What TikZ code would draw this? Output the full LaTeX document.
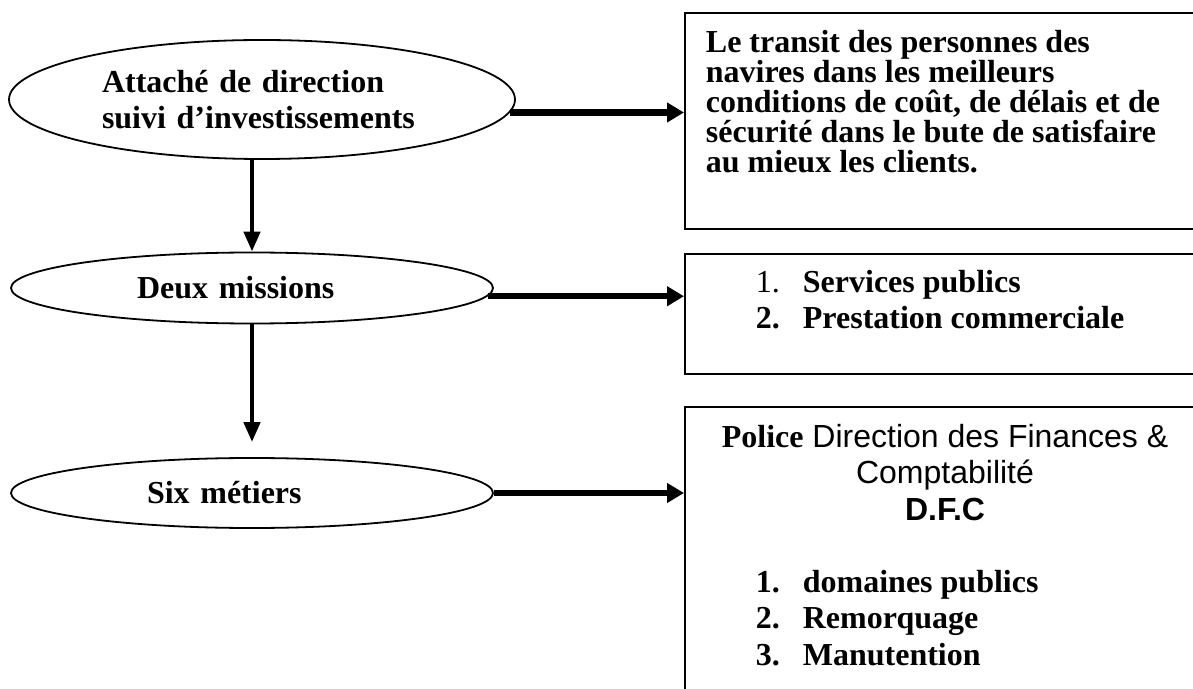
\documentclass[tikz,border=0pt]{standalone}
\usepackage{fontspec}
\setmainfont{Liberation Serif}
\setsansfont{Liberation Sans}
\usetikzlibrary{arrows.meta,shapes.geometric,positioning}

\begin{document}
\begin{tikzpicture}[x=0.5pt, y=-0.5pt, line width=0.9pt,
    mission/.style={ellipse, draw, align=left, inner sep=2pt, font=\fontsize{16}{18}\selectfont\bfseries},
    cadre/.style={rectangle, draw, anchor=north west, minimum width=280pt, inner sep=0pt},
    texte/.style={inner sep=0pt, anchor=north west, align=left, font=\fontsize{16}{18.4}\selectfont\bfseries},
    fleche/.style={-{Triangle[length=8.5pt,width=9.5pt]}, line width=3.2pt},
    descente/.style={-{Triangle[length=10pt,width=8pt]}, line width=2.2pt}]
    \useasboundingbox (0,0) rectangle (1193,689);
    \clip (0,0) rectangle (1193,689);

    % Ellipses {e1, e2, e3}
    \node [mission, minimum width=253pt, minimum height=59.5pt, text width=160pt] (e1) at (262,99.5)
        {Attaché de direction\\ suivi d’investissements};
    \node [mission, minimum width=241pt, minimum height=35.5pt, text width=115pt] (e2) at (252,288)
        {Deux missions};
    \node [mission, minimum width=241pt, minimum height=35pt, text width=105pt] (e3) at (252,493)
        {Six métiers};

    % Boxes {b1, b2, b3}
    \node [cadre, minimum height=108pt] (b1) at (684,12) {};
    \node [cadre, minimum height=60pt]  (b2) at (684,253) {};
    \node [cadre, minimum height=160pt] (b3) at (684,406) {};

    % Texts
    \node [texte, font=\fontsize{16}{15}\selectfont\bfseries] (t1) at (705,29)
        {Le transit des personnes des\\
         navires dans les meilleurs\\
         conditions de coût, de délais et de\\
         sécurité dans le bute de satisfaire\\
         au mieux les clients.};
    \node [texte] (t2) at (755,269)
        {\makebox[23.5pt][l]{\mdseries 1.}Services publics\\
         \makebox[23.5pt][l]{2.}Prestation commerciale};
    \node [texte, anchor=north, align=center, font=\fontsize{16}{18.4}\selectfont\sffamily] (t3) at (945,423)
        {{\rmfamily\bfseries Police} Direction des Finances \&\\
         Comptabilité\\
         \textbf{D.F.C}};
    \node [texte] (t4) at (755,569)
        {\makebox[23.5pt][l]{1.}domaines publics\\
         \makebox[23.5pt][l]{2.}Remorquage\\
         \makebox[23.5pt][l]{3.}Manutention};

    % Paths
    \draw [fleche]   (e1.-3) -- (e1.-3 -| b1.west);
    \draw [fleche]   (e2.-2)   -- (e2.-2 -| b2.west);
    \draw [fleche]   (e3.east) -- (e3.east -| b3.west);
    \draw [descente] (e2.north |- e1.south) -- (e2.north);
    \draw [descente, shorten >=7.5pt] (e2.south) -- (e3.north);
\end{tikzpicture}
\end{document}
